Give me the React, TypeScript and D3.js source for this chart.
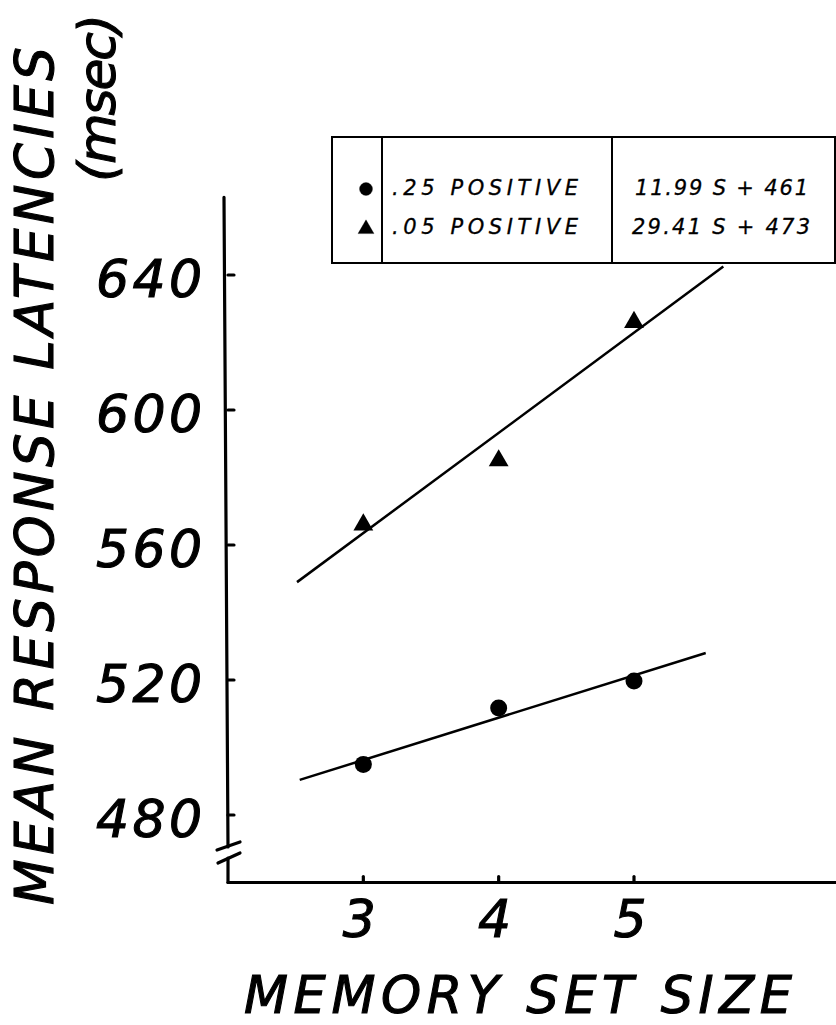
import React from "react";
import * as d3 from "d3";

// memory set sizes and mean latencies (msec)
const setSizes = [3, 4, 5];
const lowPositive = [495, 511.7, 519.7]; // .25 positive (circles)
const rarePositive = [566, 585, 626]; // .05 positive (triangles)

// fitted lines, endpoints as drawn
const lowFitX = [2.53, 5.53];
const lowFitY = [490.4, 528];
const rareFitX = [2.51, 5.66];
const rareFitY = [549, 642.5];

const yTicks = [480, 520, 560, 600, 640];
const xTicks = [3, 4, 5];

const legendRows = [
  { label: ".25  POSITIVE", eq: "11.99  S + 461", shape: "circle" },
  { label: ".05  POSITIVE", eq: "29.41  S + 473", shape: "triangle" },
];

const W = 836, H = 1025;
const font = "'DejaVu Sans', sans-serif";

export default function App() {
  const x = d3.scaleLinear().domain([2, 5]).range([228, 634]);
  const y = d3.scaleLinear().domain([480, 640]).range([815, 275]);

  const line = d3.line<[number, number]>().x(d => x(d[0])).y(d => y(d[1]));
  const tri = d3.symbol().type(d3.symbolTriangle).size(170)();
  const triSmall = d3.symbol().type(d3.symbolTriangle).size(110)();

  const axisX = x(2);
  const axisTop = y(663);
  const axisBottom = y(460);

  const legend = { x0: 332, x1: 382, x2: 612, x3: 835, top: 137, bottom: 263 };
  const rowY = [195, 234];

  return (
    <div style={{ position: "absolute", left: 0, top: 0 }}>
      <svg width={W} height={H} style={{ display: "block", background: "#fff" }}>
        {/* y axis with break */}
        <g stroke="#000" strokeWidth={3.2} fill="none" strokeLinecap="round">
          <line x1={axisX - 4} y1={axisTop} x2={axisX} y2={847} />
          <line x1={axisX} y1={858} x2={axisX} y2={axisBottom} />
          <line x1={217} y1={850} x2={240} y2={842} />
          <line x1={218} y1={863} x2={240} y2={853} />
          <line x1={axisX} y1={axisBottom} x2={W} y2={axisBottom} />
          {yTicks.map(v => (
            <line key={v} x1={axisX} y1={y(v)} x2={axisX + 6} y2={y(v)} />
          ))}
          {xTicks.map(v => (
            <line key={v} x1={x(v)} y1={axisBottom} x2={x(v)} y2={axisBottom - 6} />
          ))}
        </g>

        {/* tick labels */}
        <g fontFamily={font} fontStyle="italic" fontSize={52} fill="#000" stroke="#000" strokeWidth={1.1}>
          {yTicks.map(v => (
            <text key={v} x={96} y={y(v) + 22} textLength={106} lengthAdjust="spacing">
              {v}
            </text>
          ))}
          {xTicks.map(v => (
            <text key={v} x={x(v) - 4} y={937} textAnchor="middle">
              {v}
            </text>
          ))}
        </g>

        {/* axis titles */}
        <g fontFamily={font} fontStyle="italic" fill="#000" stroke="#000" strokeWidth={1.1}>
          <text x={244} y={1013} fontSize={51} textLength={548} lengthAdjust="spacing">
            MEMORY SET SIZE
          </text>
          <text
            transform="translate(53,905) rotate(-90)"
            fontSize={53}
            textLength={858}
            lengthAdjust="spacing"
          >
            MEAN RESPONSE LATENCIES
          </text>
          <text
            transform="translate(115,182) rotate(-90)"
            fontSize={52}
            textLength={168}
            lengthAdjust="spacing"
          >
            (msec)
          </text>
        </g>

        {/* fitted lines */}
        <g stroke="#000" strokeWidth={2.5} fill="none">
          <path d={line(lowFitX.map((s, i) => [s, lowFitY[i]]) as [number, number][]) || ""} />
          <path d={line(rareFitX.map((s, i) => [s, rareFitY[i]]) as [number, number][]) || ""} />
        </g>

        {/* data points */}
        <g fill="#000">
          {setSizes.map((s, i) => (
            <circle key={"c" + s} cx={x(s)} cy={y(lowPositive[i])} r={8.5} />
          ))}
          {setSizes.map((s, i) => (
            <path key={"t" + s} d={tri || ""} transform={`translate(${x(s)},${y(rarePositive[i])})`} />
          ))}
        </g>

        {/* legend box */}
        <g stroke="#000" strokeWidth={2} fill="none">
          <rect
            x={legend.x0}
            y={legend.top}
            width={legend.x3 - legend.x0}
            height={legend.bottom - legend.top}
            fill="#fff"
          />
          <line x1={legend.x1} y1={legend.top} x2={legend.x1} y2={legend.bottom} />
          <line x1={legend.x2} y1={legend.top} x2={legend.x2} y2={legend.bottom} />
        </g>
        <g fontFamily={font} fontStyle="italic" fontSize={21} fill="#000" stroke="#000" strokeWidth={0.3}>
          {legendRows.map((r, i) => (
            <g key={r.label}>
              {r.shape === "circle" ? (
                <circle cx={366} cy={rowY[i] - 6} r={6.5} />
              ) : (
                <path d={triSmall || ""} transform={`translate(366,${rowY[i] - 5})`} />
              )}
              <text x={392} y={rowY[i]} textLength={186} lengthAdjust="spacing">
                {r.label}
              </text>
              <text x={i === 0 ? 635 : 632} y={rowY[i]} textLength={i === 0 ? 173 : 178} lengthAdjust="spacing">
                {r.eq}
              </text>
            </g>
          ))}
        </g>
      </svg>
    </div>
  );
}
